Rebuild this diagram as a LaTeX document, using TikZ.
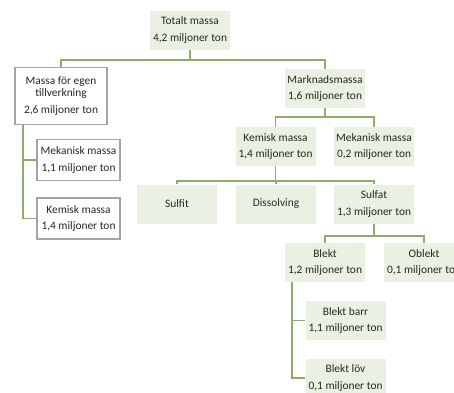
\documentclass[tikz,border=0pt]{standalone}
\usepackage{fontspec}
\setmainfont{Carlito}
\usetikzlibrary{calc}
\definecolor{boxfill}{HTML}{EAF1E2}
\definecolor{linkgreen}{HTML}{8BAF6B}
\definecolor{bordergray}{HTML}{A3A3A3}
\begin{document}
\begin{tikzpicture}[x=1pt,y=-1pt,
  every node/.style={inner sep=0pt, align=center, font=\fontsize{11.4}{12.5}\selectfont, text=black!85},
  gbox/.style={fill=boxfill, minimum width=80pt, minimum height=39pt},
  wbox/.style={fill=white, draw=bordergray, line width=1.5pt, minimum width=83pt, minimum height=41pt},
  link/.style={draw=linkgreen, line width=1.6pt}]
\useasboundingbox (0,0) rectangle (454,392);
% nodes
\node[gbox] (tot) at (190,30) {Totalt massa\\[4pt]4,2 miljoner ton};
\node[wbox, minimum width=92pt, minimum height=57pt] (egen) at (61,96) {Massa för egen\\tillverkning\\[4.5pt]2,6 miljoner ton};
\node[gbox] (mark) at (325,88.5) {Marknadsmassa\\[4pt]1,6 miljoner ton};
\node[wbox] (mek1) at (78.5,160) {Mekanisk massa\\[4pt]1,1 miljoner ton};
\node[wbox] (kem1) at (78.5,218.5) {Kemisk massa\\[4pt]1,4 miljoner ton};
\node[gbox] (kem2) at (275.5,146.5) {Kemisk massa\\[4pt]1,4 miljoner ton};
\node[gbox] (mek2) at (374,146.5) {Mekanisk massa\\[4pt]0,2 miljoner ton};
\node[gbox] (sulfit) at (177,204) {Sulfit};
\node[gbox] (diss) at (276,204) {Dissolving};
\node[gbox] (sulfat) at (374,204) {Sulfat\\[4pt]1,3 miljoner ton};
\node[gbox] (blekt) at (325,262.5) {Blekt\\[4pt]1,2 miljoner ton};
\node[gbox] (oblekt) at (424,262.5) {Oblekt\\[4pt]0,1 miljoner ton};
\node[gbox] (barr) at (345.5,320.5) {Blekt barr\\[4pt]1,1 miljoner ton};
\node[gbox] (lov) at (345.5,378) {Blekt löv\\[4pt]0,1 miljoner ton};
% connectors
\draw[link] (tot.south) -- ++(0,10) -| (egen.north);
\draw[link] (tot.south) -- ++(0,10) -| (mark.north);
\draw[link] (mark.south) -- ++(0,9) -| (kem2.north);
\draw[link] (mark.south) -- ++(0,9) -| (mek2.north);
\draw[link] (kem2.south) -- ++(0,15) -| (sulfit.north);
\draw[link] (kem2.south) -- ++(0,15) -| (diss.north);
\draw[link] (kem2.south) -- ++(0,15) -| (sulfat.north);
\draw[link] (sulfat.south) -- ++(0,12) -| (blekt.north);
\draw[link] (sulfat.south) -- ++(0,12) -| (oblekt.north);
\coordinate (egenfoot) at ($(egen.south west)+(9,0)$);
\draw[link] (egenfoot) |- (mek1.west);
\draw[link] (egenfoot) |- (kem1.west);
\coordinate (blektfoot) at ($(blekt.south west)+(7,0)$);
\draw[link] (blektfoot) |- (barr.west);
\draw[link] (blektfoot) |- (lov.west);
\end{tikzpicture}
\end{document}
